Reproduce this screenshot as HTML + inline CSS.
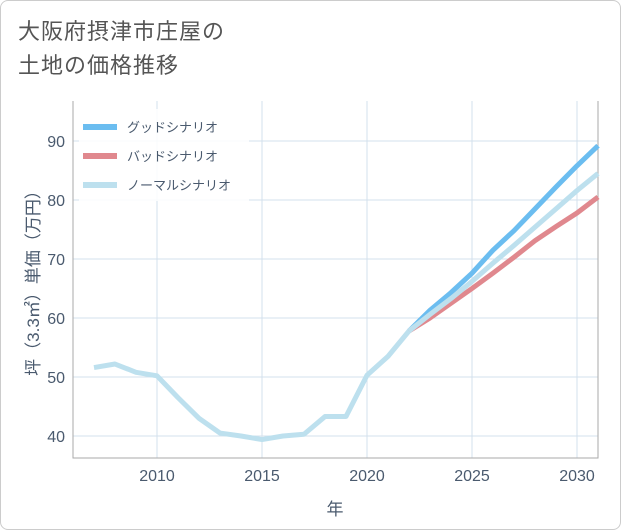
<!DOCTYPE html>
<html><head><meta charset="utf-8">
<style>
body{margin:0;background:#fff;}
#card{position:absolute;left:0;top:0;width:619px;height:528px;border:1px solid #ccc;border-radius:8px;background:#fff;font-family:"Liberation Sans","Noto Sans CJK JP",sans-serif;}
#title{position:absolute;left:17px;top:14px;font-size:22px;line-height:34px;color:#555;letter-spacing:1px;}
svg{position:absolute;left:0;top:0;}
</style></head><body>
<div id="card">
<div id="title">大阪府摂津市庄屋の<br>土地の価格推移</div>
<svg id="chart" width="621" height="530"></svg>
</div>
<script>
const years=[2007,2008,2009,2010,2011,2012,2013,2014,2015,2016,2017,2018,2019,2020,2021,2022];
const history=[51.6,52.2,50.8,50.2,46.5,43,40.5,40,39.4,40,40.3,43.3,43.3,50.3,53.5,57.8];
const projYears=[2022,2023,2024,2025,2026,2027,2028,2029,2030,2031];
const good=[57.8,61.3,64.3,67.6,71.5,74.8,78.5,82.2,85.8,89.2];
const bad=[57.8,60,62.5,65,67.6,70.3,73.1,75.5,77.8,80.5];
const normal=[57.8,60.6,63.3,66.2,69.3,72.3,75.4,78.5,81.6,84.5];
const xTicks=[2010,2015,2020,2025,2030];
const yTicks=[40,50,60,70,80,90];
const legendLabels=["グッドシナリオ","バッドシナリオ","ノーマルシナリオ"];
const colors=["#6bbdf0","#e0888e","#bde0ee"];

const NS="http://www.w3.org/2000/svg";
const svg=document.getElementById('chart');
const L=72,R=597,T=100,B=457;
const x=v=>L+(v-2006)/(2031-2006)*(R-L);
const y=v=>376-(v-50)*5.9;
function mk(tag,attrs,parent){const e=document.createElementNS(NS,tag);for(const k in attrs)e.setAttribute(k,attrs[k]);(parent||svg).appendChild(e);return e;}

xTicks.forEach(t=>{
  const g=mk('line',{x1:x(t),x2:x(t),y1:T,y2:B,stroke:'#d3e1ec','stroke-width':1});
  
  
  const tx=mk('text',{x:x(t),y:480,'text-anchor':'middle','font-size':16,fill:'#4a5a6e'});
  tx.textContent=t;
  
  
});
yTicks.forEach(t=>{
  const g=mk('line',{x1:L,x2:R,y1:y(t),y2:y(t),stroke:'#d3e1ec','stroke-width':1});
  
  
  const tx=mk('text',{x:64,y:y(t)+6,'text-anchor':'end','font-size':16,fill:'#4a5a6e'});
  tx.textContent=t;
  
  
});
const ax=mk('path',{d:`M${L} ${T}V${B}H${R}V${T}`,fill:'none',stroke:'#aaa','stroke-width':1});



function line(xs,vs,color,name){
  const d=xs.map((t,i)=>(i?'L':'M')+x(t)+' '+y(vs[i])).join('');
  const p=mk('path',{d:d,fill:'none',stroke:color,'stroke-width':5,'stroke-linejoin':'round'});
  
  
}
line(projYears,good,colors[0],'good-scenario-line');
line(projYears,bad,colors[1],'bad-scenario-line');
line(projYears,normal,colors[2],'normal-scenario-line');
line(years,history,colors[2],'history-line');

const lg=mk('rect',{x:78,y:108,width:170,height:92,fill:'#fff',opacity:0.85});


legendLabels.forEach((lab,i)=>{
  const yy=126+i*29;
  const l=mk('line',{x1:82,x2:116,y1:yy,y2:yy,stroke:colors[i],'stroke-width':6});
  
  
  const t=mk('text',{x:126,y:yy+5,'font-size':13,fill:'#4a5a6e'});
  t.textContent=lab;
  
  
});
const xt=mk('text',{x:334,y:514,'text-anchor':'middle','font-size':17,fill:'#4a5a6e'});
xt.textContent='年';


const yt=mk('text',{x:0,y:0,'text-anchor':'middle','font-size':17,fill:'#4a5a6e',transform:'translate(38,278) rotate(-90)'});
yt.textContent='坪（3.3㎡）単価（万円）';


</script>
</body></html>
